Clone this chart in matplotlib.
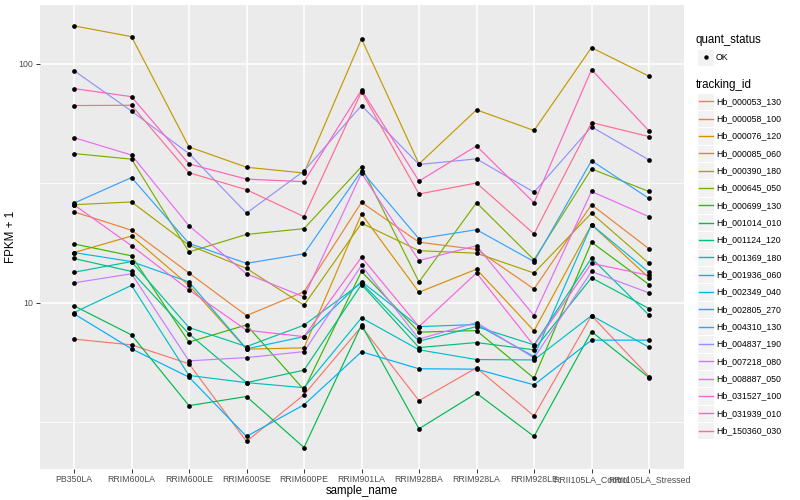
import numpy as np
import matplotlib
matplotlib.use("Agg")
import matplotlib.pyplot as plt
from matplotlib.patches import Rectangle
from matplotlib.lines import Line2D
from matplotlib.ticker import FixedLocator, NullFormatter

plt.rcParams['font.family'] = ['Liberation Sans', 'DejaVu Sans']

samples = ["PB350LA", "RRIM600LA", "RRIM600LE", "RRIM600SE", "RRIM600PE",
           "RRIM901LA", "RRIM928BA", "RRIM928LA", "RRIM928LE",
           "RRII105LA_Control", "RRII105LA_Stressed"]

tracking_ids = ["Hb_000053_130", "Hb_000058_100", "Hb_000076_120", "Hb_000085_060",
                "Hb_000390_180", "Hb_000645_050", "Hb_000699_130", "Hb_001014_010",
                "Hb_001124_120", "Hb_001369_180", "Hb_001936_060", "Hb_002349_040",
                "Hb_002805_270", "Hb_004310_130", "Hb_004837_190", "Hb_007218_080",
                "Hb_008887_050", "Hb_031527_100", "Hb_031939_010", "Hb_150360_030"]

# FPKM + 1, one value per sample
hb_000053_130 = [7.03, 6.65, 5.54, 2.62, 4.11, 7.93, 3.88, 5.33, 3.35, 8.82, 4.90]
hb_000058_100 = [24.0, 20.1, 13.3, 8.82, 11.1, 26.3, 17.9, 16.7, 11.4, 25.7, 16.8]
hb_000076_120 = [16.2, 19.0, 11.8, 6.38, 6.46, 23.5, 11.05, 13.8, 7.61, 21.2, 12.7]
hb_000085_060 = [144.3, 130.1, 44.9, 36.9, 34.9, 127.3, 38.1, 64.2, 52.6, 117.0, 88.8]
hb_000390_180 = [25.7, 26.4, 17.4, 13.9, 9.75, 21.5, 16.5, 16.1, 13.3, 23.7, 14.6]
hb_000645_050 = [42.1, 39.9, 16.3, 19.3, 20.4, 37.1, 12.2, 26.2, 15.1, 36.3, 29.2]
hb_000699_130 = [17.6, 15.7, 6.83, 8.06, 4.31, 13.5, 7.52, 7.63, 4.82, 17.9, 11.9]
hb_001014_010 = [9.69, 7.32, 3.70, 4.04, 2.47, 8.06, 2.96, 4.17, 2.75, 7.56, 4.85]
hb_001124_120 = [15.3, 13.5, 7.39, 4.62, 5.21, 11.9, 6.48, 6.80, 6.34, 12.7, 9.44]
hb_001369_180 = [13.4, 14.85, 7.86, 6.54, 8.04, 12.1, 6.89, 7.93, 6.65, 15.35, 8.86]
hb_001936_060 = [9.08, 11.8, 4.95, 4.62, 4.40, 8.63, 6.34, 5.77, 5.75, 8.82, 6.50]
hb_002349_040 = [16.2, 14.85, 12.2, 6.40, 7.20, 12.25, 7.93, 8.09, 5.94, 21.2, 13.4]
hb_002805_270 = [8.97, 6.40, 4.87, 2.75, 3.73, 6.22, 5.28, 5.26, 4.52, 6.96, 6.96]
hb_004310_130 = [26.1, 33.4, 17.7, 14.6, 16.0, 35.6, 18.5, 20.2, 14.85, 39.3, 27.3]
hb_004837_190 = [93.7, 63.4, 42.1, 23.7, 35.6, 66.9, 37.9, 40.0, 29.0, 54.5, 39.6]
hb_007218_080 = [12.1, 13.2, 5.70, 5.88, 6.23, 14.3, 7.03, 8.25, 5.86, 13.5, 10.98]
hb_008887_050 = [49.1, 41.5, 20.96, 13.2, 10.56, 34.8, 15.0, 17.3, 8.82, 29.2, 22.9]
hb_031527_100 = [25.7, 17.3, 11.3, 7.66, 7.20, 15.5, 7.93, 13.3, 6.59, 14.6, 13.0]
hb_031939_010 = [78.8, 72.9, 38.1, 32.9, 32.1, 77.8, 32.3, 45.3, 26.2, 94.6, 52.4]
hb_150360_030 = [66.9, 67.1, 35.0, 29.7, 22.9, 76.5, 28.5, 31.7, 19.4, 56.8, 49.6]

series = [hb_000053_130, hb_000058_100, hb_000076_120, hb_000085_060, hb_000390_180,
          hb_000645_050, hb_000699_130, hb_001014_010, hb_001124_120, hb_001369_180,
          hb_001936_060, hb_002349_040, hb_002805_270, hb_004310_130, hb_004837_190,
          hb_007218_080, hb_008887_050, hb_031527_100, hb_031939_010, hb_150360_030]

# ggplot default hue palette for 20 levels
colors = ["#F8766D", "#EA8331", "#D89000", "#C09B00", "#A3A500", "#7CAE00", "#39B600",
          "#00BB4E", "#00BF7D", "#00C1A3", "#00BFC4", "#00BAE0", "#00B0F6", "#35A2FF",
          "#9590FF", "#C77CFF", "#E76BF3", "#FA62DB", "#FF62BC", "#FF6C91"]

fig = plt.figure(figsize=(8, 5), dpi=100)
ax = fig.add_axes([39.5 / 800, 1 - 468.6 / 500, 644 / 800, 463.8 / 500])
ax.set_facecolor('#EBEBEB')

x = np.arange(len(samples))
for vals, c in zip(series, colors):
    ax.plot(x, vals, color=c, lw=0.85, zorder=3)
for vals in series:
    ax.plot(x, vals, 'o', color='black', ms=3.4, mew=0, zorder=4)

ax.set_yscale('log')
ax.set_xlim(-0.6, len(samples) - 0.4)
allv = np.log10(np.concatenate([np.array(s) for s in series]))
lo, hi = allv.min(), allv.max()
pad = (hi - lo) * 0.05
ax.set_ylim(10 ** (lo - pad), 10 ** (hi + pad))

ax.set_xticks(x)
ax.set_xticklabels(samples)
ax.yaxis.set_major_locator(FixedLocator([10, 100]))
ax.set_yticklabels(['10', '100'])
ax.yaxis.set_minor_locator(FixedLocator([10 ** 0.5, 10 ** 1.5, 10 ** 2.5]))
ax.yaxis.set_minor_formatter(NullFormatter())

ax.set_axisbelow(True)
ax.grid(which='major', color='white', lw=1.1)
ax.grid(which='minor', axis='y', color='white', lw=0.55)
for s in ax.spines.values():
    s.set_visible(False)
ax.tick_params(which='major', length=3, width=0.7, color='#333333',
               labelsize=6.3, labelcolor='#4D4D4D', pad=1.5)
ax.tick_params(which='minor', length=0)

ax.set_xlabel('sample_name', fontsize=8.3, labelpad=1)
ax.set_ylabel('FPKM + 1', fontsize=8.3, labelpad=1)

# legends (ggplot style, drawn in figure pixels)
W, H = 800, 500


def fx(px):
    return px / W


def fy(py):
    return 1 - py / H


fig.text(fx(696), fy(40), 'quant_status', fontsize=8.3, va='center', ha='left')
fig.patches.append(Rectangle((fx(697), fy(66)), 17.3 / W, 17.3 / H,
                             transform=fig.transFigure, facecolor='#F2F2F2',
                             edgecolor='white', lw=0.8))
fig.lines.append(Line2D([fx(705.6)], [fy(57.4)], marker='o', ms=3.2, mew=0,
                        color='black', transform=fig.transFigure))
fig.text(fx(716), fy(57.4), 'OK', fontsize=6.3, va='center', ha='left')

fig.text(fx(696), fy(85), 'tracking_id', fontsize=8.3, va='center', ha='left')
for i, (name, c) in enumerate(zip(tracking_ids, colors)):
    yc = 101.3 + i * 17.33
    fig.patches.append(Rectangle((fx(697), fy(yc + 8.66)), 17.3 / W, 17.33 / H,
                                 transform=fig.transFigure, facecolor='#F2F2F2',
                                 edgecolor='white', lw=0.8))
    fig.lines.append(Line2D([fx(699), fx(712.5)], [fy(yc), fy(yc)], color=c,
                            lw=1.0, transform=fig.transFigure))
    fig.text(fx(716.5), fy(yc), name, fontsize=6.3, va='center', ha='left')

fig.savefig('out.png', dpi=100)
